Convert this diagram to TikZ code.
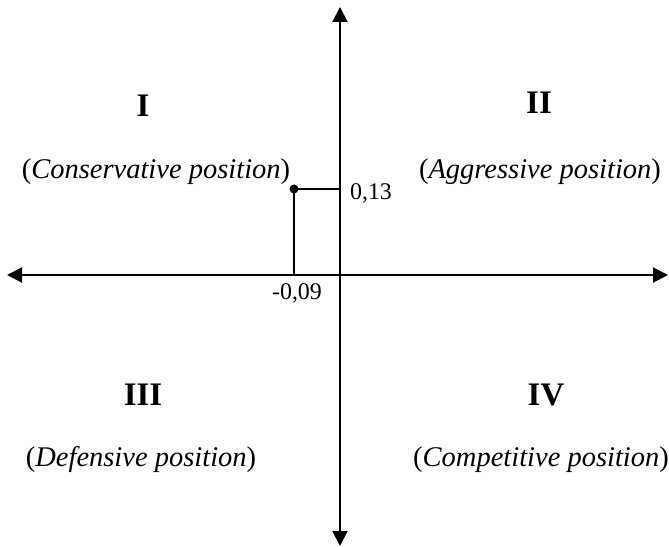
\documentclass[tikz,border=0pt]{standalone}
\usepackage{fontspec}
\setmainfont{Liberation Serif}
\usetikzlibrary{arrows.meta}

\begin{document}
\begin{tikzpicture}[x=0.5bp, y=-0.5bp, >={Triangle[length=7.5bp, width=7.5bp]},
  every node/.style={inner sep=0pt},
  quadnum/.style={font=\fontsize{16.5}{19}\selectfont\bfseries},
  quadname/.style={font=\fontsize{14.3}{17}\selectfont},
  ticklabel/.style={font=\fontsize{12}{14}\selectfont},
  axis/.style={line width=1bp, <->}]
  \useasboundingbox (0,0) rectangle (669,547);
  % axes
  \coordinate (O) at (340,275);
  \coordinate (W) at (7,275);
  \coordinate (E) at (668,275);
  \coordinate (N) at (340,7);
  \coordinate (S) at (340,546);
  \draw[axis] (W) -- (E);
  \draw[axis] (N) -- (S);
  % point and its projections
  \node[circle, fill, minimum size=4.5bp] (pt) at (294,189) {};
  \coordinate (ypt) at (O |- pt);
  \coordinate (xpt) at (pt |- O);
  \draw[line width=1bp] (pt.center) -- (ypt);
  \draw[line width=1bp] (pt.center) -- (xpt);
  \node[ticklabel] (ylab) at (371,193) {0,13};
  \node[ticklabel] (xlab) at (297,293) {-0,09};
  % quadrants
  \node[quadnum] (q1) at (143,106) {I};
  \node[quadname] (q1txt) at (156,172) {(\textit{Conservative position})};
  \node[quadnum] (q2) at (539,103) {II};
  \node[quadname] (q2txt) at (540,172) {(\textit{Aggressive position})};
  \node[quadnum] (q3) at (143,395) {III};
  \node[quadname] (q3txt) at (141,460) {(\textit{Defensive position})};
  \node[quadnum] (q4) at (546,395) {IV};
  \node[quadname] (q4txt) at (541,460) {(\textit{Competitive position})};
\end{tikzpicture}
\end{document}
